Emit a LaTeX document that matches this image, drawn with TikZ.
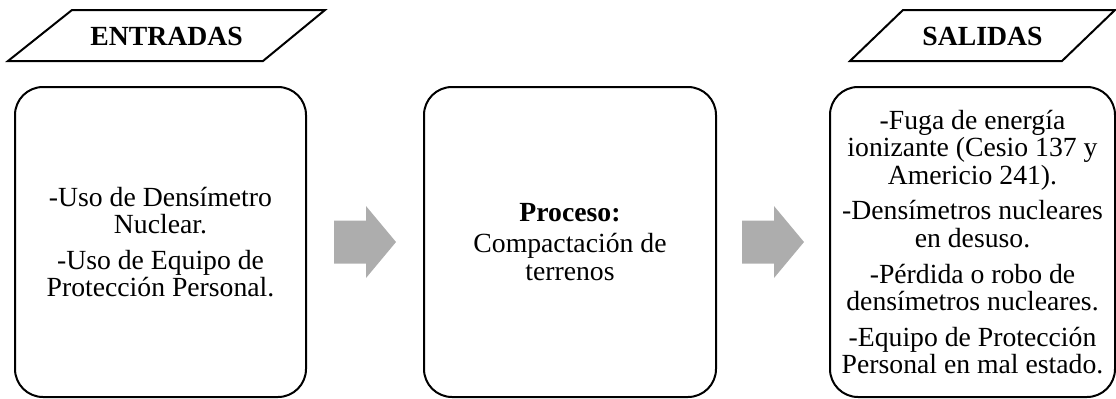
\documentclass[tikz,border=0pt]{standalone}
\usepackage{fontspec}
\setmainfont{Liberation Serif}
\usetikzlibrary{calc}

\definecolor{arrowgray}{RGB}{173,173,173}

\tikzset{
  txt/.style={font=\fontsize{13.85}{13.8}\selectfont},
  box/.style={txt, draw, line width=1pt, rounded corners=14pt, minimum height=155pt, align=center, inner sep=0pt},
  header/.style={font=\fontsize{13.85}{13.8}\selectfont\bfseries, inner sep=0pt},
  blockarrow/.pic={
    \fill[arrowgray] (-31,-21.5) -- (1,-21.5) -- (1,-36) -- (31,0) -- (1,36) -- (1,21.5) -- (-31,21.5) -- cycle;
  }
}

\begin{document}
\begin{tikzpicture}[x=0.5pt, y=-0.5pt]
  \useasboundingbox (0,0) rectangle (1116,398);

  % headers
  \draw[line width=1pt] (8,61) -- (72,10) -- (325,10) -- (263,61) -- cycle;
  \node[header] (entradas) at (166.5,36) {ENTRADAS};
  \draw[line width=1pt] (850,61) -- (903,10) -- (1115,10) -- (1062,61) -- cycle;
  \node[header] (salidas) at (982.5,36) {SALIDAS};

  % boxes
  \node[box, minimum width=145.5pt] (boxIn) at (160.5,242)
    {-Uso de Densímetro\\ Nuclear.\\[4pt] -Uso de Equipo de\\ Protección Personal.};
  \node[box, minimum width=146pt] (boxProc) at (570,242)
    {\textbf{Proceso:}\\[2pt] Compactación de\\ terrenos};
  \node[box, minimum width=142.5pt] (boxOut) at (972.5,242)
    {-Fuga de energía\\ ionizante (Cesio 137 y\\ Americio 241).\\[4pt]
     -Densímetros nucleares\\ en desuso.\\[4pt]
     -Pérdida o robo de\\ densímetros nucleares.\\[4pt]
     -Equipo de Protección\\ Personal en mal estado.};

  % arrows
  \path ($(boxIn.east)!0.5!(boxProc.west)$) pic {blockarrow};
  \path ($(boxProc.east)!0.5!(boxOut.west)$) pic {blockarrow};
\end{tikzpicture}
\end{document}
